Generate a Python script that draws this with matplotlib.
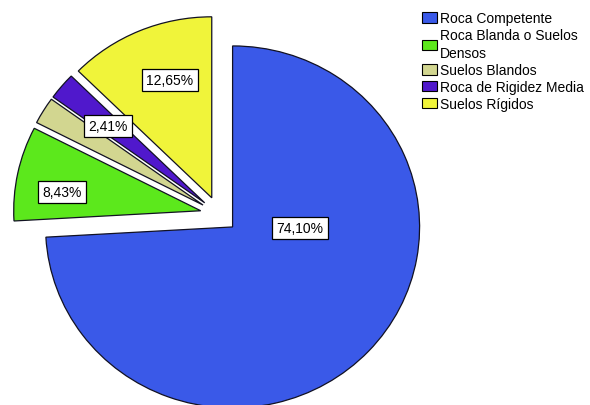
import matplotlib
matplotlib.use("Agg")
import matplotlib.pyplot as plt
from matplotlib.patches import Patch

categories = ["Roca Competente", "Roca Blanda o Suelos\nDensos", "Suelos Blandos",
              "Roca de Rigidez Media", "Suelos Rígidos"]
percentages = [74.10, 8.43, 2.41, 2.41, 12.65]
colors = ["#3a59e8", "#5ce81c", "#d2d690", "#5018cc", "#f0f43a"]
shown_labels = ["74,10%", "8,43%", None, "2,41%", "12,65%"]

plt.rcParams["font.family"] = ["Liberation Sans", "DejaVu Sans"]

W, H = 590, 406
fig = plt.figure(figsize=(W / 100, H / 100), dpi=100)
ax = fig.add_axes([0, 0, 1, 1])

# slightly wider than tall
sx = 187 / 181
cx_px, cy_px = 219, 215.5
radius = 181

wedges, _ = ax.pie(
    percentages,
    colors=colors,
    startangle=90,
    counterclock=False,
    explode=[0.1 * radius] * len(percentages),
    radius=radius,
    center=(cx_px / sx, H - cy_px),
    wedgeprops=dict(edgecolor="#111122", linewidth=0.9),
)
ax.set_aspect("auto")
ax.set_xlim(0, W / sx)
ax.set_ylim(0, H)
ax.axis("off")

# value labels (pixel positions in the figure)
label_pos = [(300, 229), (62, 193), None, (108, 127), (170, 81)]
for txt, pos in zip(shown_labels, label_pos):
    if txt is None:
        continue
    fig.text(pos[0] / W, 1 - pos[1] / H, txt, ha="center", va="center", fontsize=10,
             bbox=dict(boxstyle="square,pad=0.3", facecolor="white",
                       edgecolor="black", linewidth=0.9))

handles = [Patch(facecolor=c, edgecolor="black", linewidth=0.8) for c in colors]
leg = fig.legend(handles, categories, loc="upper left",
                 bbox_to_anchor=(418 / W, 1 - 8 / H), frameon=False,
                 fontsize=10, handlelength=1.05, handleheight=0.8,
                 handletextpad=0.2, labelspacing=0.2, borderaxespad=0,
                 borderpad=0.3)
for t in leg.get_texts():
    t.set_linespacing(1.4)

fig.savefig("out.png", dpi=100)
